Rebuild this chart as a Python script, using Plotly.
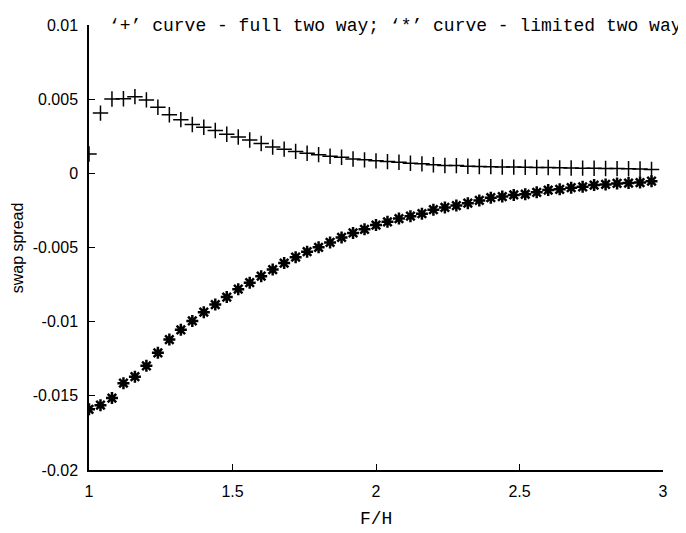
import plotly.graph_objects as go

fh = [round(1 + 0.04 * i, 2) for i in range(50)]

full_two_way = [
    0.00130, 0.00406, 0.00501, 0.00503, 0.00517, 0.00495, 0.00446, 0.00395, 0.00362, 0.00329,
    0.00311, 0.00289, 0.00263, 0.00245, 0.00225, 0.00201, 0.00177, 0.00163, 0.00148, 0.00135,
    0.00126, 0.00115, 0.00108, 0.00097, 0.00091, 0.00084, 0.00079, 0.00075, 0.00068, 0.00064,
    0.00058, 0.00053, 0.00052, 0.00048, 0.00046, 0.00045, 0.00043, 0.00042, 0.00041, 0.00040,
    0.00039, 0.00037, 0.00036, 0.00035, 0.00034, 0.00033, 0.00032, 0.00031, 0.00029, 0.00026,
]

limited_two_way = [
    -0.01591, -0.01563, -0.01515, -0.01415, -0.01371, -0.01298, -0.01210, -0.01121, -0.01055, -0.00995,
    -0.00936, -0.00885, -0.00834, -0.00781, -0.00737, -0.00693, -0.00649, -0.00605, -0.00565, -0.00528,
    -0.00499, -0.00466, -0.00432, -0.00402, -0.00377, -0.00349, -0.00327, -0.00305, -0.00289, -0.00272,
    -0.00245, -0.00230, -0.00217, -0.00201, -0.00183, -0.00164, -0.00157, -0.00146, -0.00141, -0.00128,
    -0.00113, -0.00108, -0.00097, -0.00091, -0.00079, -0.00075, -0.00068, -0.00066, -0.00062, -0.00053,
]

x_ticks = [1, 1.5, 2, 2.5, 3]
x_tick_labels = ["1", "1.5", "2", "2.5", "3"]
y_ticks = [0.01, 0.005, 0, -0.005, -0.01, -0.015, -0.02]
y_tick_labels = ["0.01", "0.005", "0", "-0.005", "-0.01", "-0.015", "-0.02"]

title_text = "\u2018+\u2019 curve - full two way; \u2018*\u2019 curve - limited two way"

fig = go.Figure()
fig.add_trace(go.Scatter(
    x=fh, y=full_two_way, mode="markers", name="full two way",
    marker=dict(symbol="cross-thin-open", size=11, color="black",
                line=dict(color="black", width=1.5)),
))
fig.add_trace(go.Scatter(
    x=fh, y=limited_two_way, mode="markers", name="limited two way",
    marker=dict(symbol="asterisk-open", size=10, color="black",
                line=dict(color="black", width=2.5)),
))

axis_font = dict(family="Liberation Sans, Arial, sans-serif", size=16, color="black")

# the page body adds an 8px offset; the figure is sized to compensate
fig.update_layout(
    width=678, height=525,
    margin=dict(l=81, r=23, t=9, b=63),
    paper_bgcolor="white", plot_bgcolor="white",
    showlegend=False,
    xaxis=dict(
        range=[1, 3], tickvals=x_ticks, ticktext=x_tick_labels,
        showline=True, linecolor="black", linewidth=1.5, mirror=False,
        ticks="inside", ticklen=6, tickcolor="black", tickwidth=1,
        showgrid=False, zeroline=False, tickfont=axis_font,
        ticklabelstandoff=6,
    ),
    yaxis=dict(
        range=[-0.02, 0.01], tickvals=y_ticks, ticktext=y_tick_labels,
        showline=True, linecolor="black", linewidth=1.5, mirror=False,
        ticks="inside", ticklen=6, tickcolor="black", tickwidth=1,
        showgrid=False, zeroline=False, tickfont=axis_font,
        ticklabelstandoff=6,
    ),
    annotations=[
        dict(text=title_text, xref="paper", yref="paper", x=0.031, y=1.0,
             xanchor="left", yanchor="middle", yshift=-1, showarrow=False,
             font=dict(family="Liberation Mono, Courier New, monospace", size=18, color="black")),
        dict(text="F/H", xref="paper", yref="paper", x=0.5, y=-0.110,
             xanchor="center", yanchor="middle", showarrow=False,
             font=dict(family="Liberation Mono, Courier New, monospace", size=18, color="black")),
        dict(text="swap spread", xref="paper", yref="paper", x=-0.124, y=0.5,
             xanchor="center", yanchor="middle", textangle=-90, showarrow=False,
             font=dict(family="Liberation Sans, Arial, sans-serif", size=16, color="black")),
    ],
)

fig.write_html("out.html")
